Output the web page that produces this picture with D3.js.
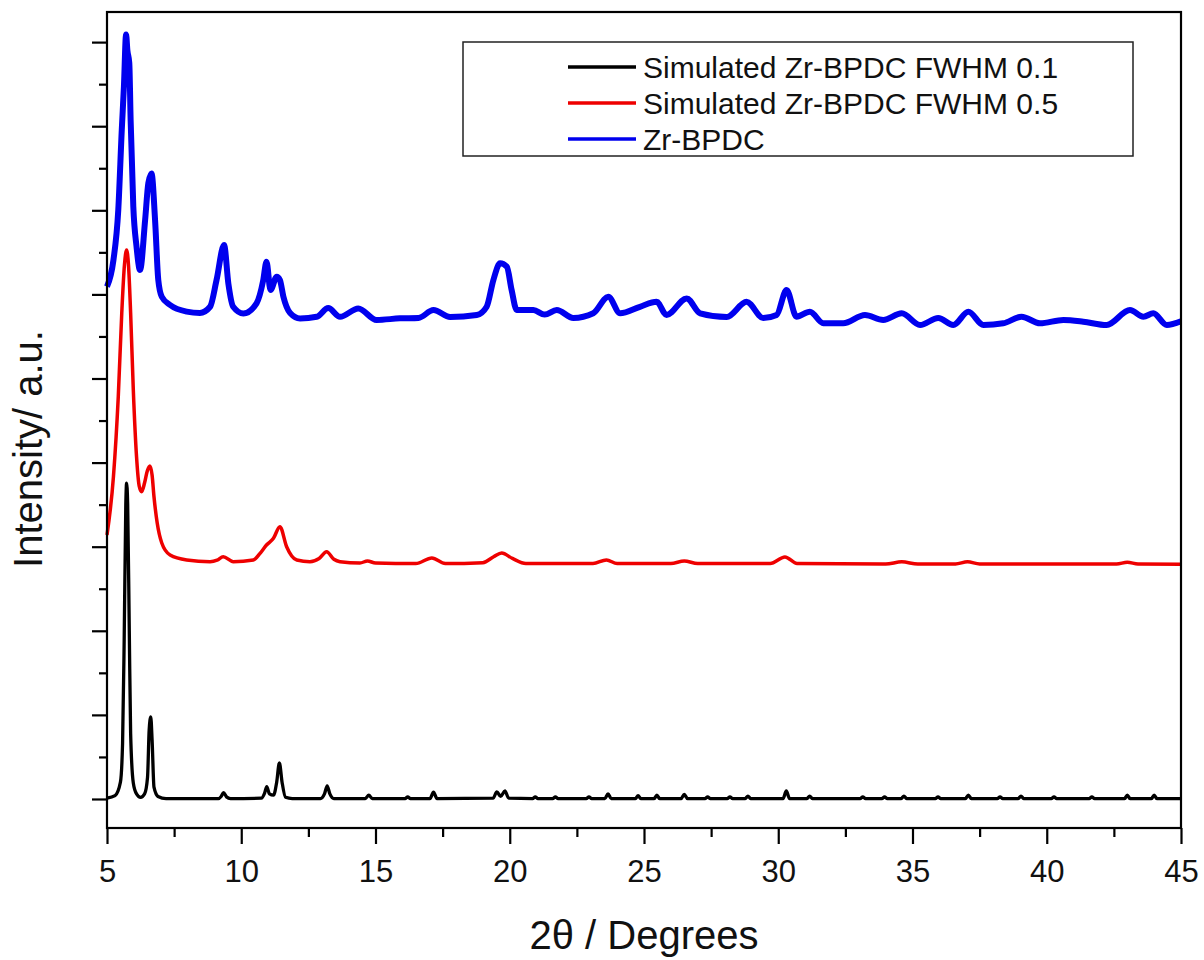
<!DOCTYPE html>
<html lang="en">
<head>
    <meta charset="utf-8" />
    <title>Zr-BPDC PXRD</title>
    <script src="https://d3js.org/d3.v7.min.js"></script>
    <style>
        body { margin: 0; background: #fff; }
        text { font-family: "Liberation Sans", Arial, sans-serif; fill: #111; }
    </style>
</head>
<body>
    <script>
        // Data: [2theta, intensity a.u.]
        const simSharp = [
            [5.0, 10], [5.3, 40], [5.5, 200], [5.58, 660], [5.64, 1890], [5.7, 3500], [5.73, 3757],
            [5.77, 3500], [5.83, 2000], [5.88, 780], [5.98, 190], [6.1, 60], [6.25, 20], [6.4, 60],
            [6.51, 260], [6.57, 820], [6.63, 975], [6.68, 700], [6.75, 140], [6.9, 30], [7.2, 5],
            [9.15, 5], [9.25, 30], [9.34, 75], [9.45, 25], [9.6, 5],
            [10.75, 10], [10.87, 70], [10.95, 146], [11.05, 60], [11.2, 45], [11.32, 200], [11.42, 430],
            [11.52, 200], [11.65, 20], [11.9, 5],
            [12.95, 5], [13.1, 60], [13.2, 155], [13.3, 60], [13.45, 5],
            [14.62, 5], [14.75, 45], [14.88, 5],
            [16.1, 5], [16.2, 25], [16.3, 5],
            [17.03, 5], [17.16, 80], [17.29, 5],
            [19.38, 10], [19.52, 85], [19.66, 30], [19.82, 95], [19.96, 10],
            [20.85, 5], [20.95, 25], [21.05, 5],
            [21.6, 5], [21.7, 25], [21.8, 5],
            [22.85, 5], [22.95, 25], [23.05, 5],
            [23.54, 5], [23.66, 60], [23.78, 5],
            [24.68, 5], [24.78, 40], [24.88, 5],
            [25.38, 5], [25.48, 45], [25.58, 5],
            [26.38, 5], [26.5, 55], [26.62, 5],
            [27.27, 5], [27.37, 25], [27.47, 5],
            [28.1, 5], [28.2, 25], [28.3, 5],
            [28.77, 5], [28.87, 35], [28.97, 5],
            [30.18, 5], [30.3, 95], [30.42, 5],
            [31.07, 5], [31.17, 35], [31.27, 5],
            [33.05, 5], [33.15, 25], [33.25, 5],
            [33.86, 5], [33.96, 25], [34.06, 5],
            [34.58, 5], [34.68, 35], [34.78, 5],
            [35.85, 5], [35.95, 25], [36.05, 5],
            [36.97, 5], [37.08, 45], [37.19, 5],
            [38.16, 5], [38.26, 25], [38.36, 5],
            [38.94, 5], [39.04, 35], [39.14, 5],
            [40.17, 5], [40.27, 25], [40.37, 5],
            [41.58, 5], [41.68, 25], [41.78, 5],
            [42.9, 5], [43.0, 45], [43.1, 5],
            [43.9, 5], [44.0, 45], [44.1, 5], [45.0, 5]
        ];

        const simBroad = [
            [5.0, 3139], [5.24, 3832], [5.42, 4784], [5.55, 5779], [5.65, 6350], [5.73, 6528],
            [5.8, 6350], [5.88, 5779], [5.98, 4863], [6.1, 4070], [6.2, 3720], [6.29, 3654],
            [6.4, 3760], [6.5, 3900], [6.6, 3960], [6.68, 3850], [6.75, 3594], [6.87, 3282],
            [7.04, 3044], [7.35, 2901], [7.97, 2842], [8.84, 2822], [9.1, 2840], [9.33, 2881],
            [9.7, 2822], [10.45, 2842], [10.7, 2920], [10.94, 3020], [11.2, 3100], [11.44, 3238],
            [11.69, 3000], [12.07, 2842], [12.56, 2822], [12.9, 2860], [13.18, 2940], [13.45, 2850],
            [13.68, 2822], [14.42, 2806], [14.7, 2830], [15.0, 2806], [16.5, 2800], [17.1, 2866],
            [17.6, 2800], [19.0, 2810], [19.4, 2880], [19.7, 2925], [20.1, 2860], [20.6, 2800],
            [23.1, 2800], [23.6, 2842], [24.0, 2800], [26.0, 2800], [26.5, 2830], [27.0, 2800],
            [29.7, 2800], [30.25, 2878], [30.7, 2800], [34.0, 2794], [34.6, 2820], [35.2, 2794],
            [36.6, 2794], [37.05, 2820], [37.5, 2794], [42.6, 2794], [43.0, 2815], [43.4, 2794],
            [45.0, 2790]
        ];

        const measured = [
            [5.0, 6092], [5.24, 6409], [5.42, 7004], [5.55, 7955], [5.63, 8470], [5.71, 9090],
            [5.76, 8900], [5.83, 8751], [5.88, 8074], [5.98, 7043], [6.1, 6567], [6.23, 6290],
            [6.42, 6885], [6.54, 7325], [6.66, 7437], [6.79, 6885], [6.91, 6171], [7.04, 5972],
            [7.35, 5874], [7.97, 5795], [8.46, 5779], [8.84, 5853], [9.08, 6171], [9.36, 6587],
            [9.52, 6129], [9.7, 5853], [10.08, 5773], [10.57, 5894], [10.82, 6171], [10.94, 6389],
            [11.09, 6052], [11.32, 6211], [11.44, 6171], [11.57, 5972], [11.82, 5779], [12.19, 5714],
            [12.81, 5734], [13.24, 5838], [13.68, 5734], [14.36, 5833], [15.04, 5696], [15.91, 5715],
            [16.6, 5720], [17.16, 5814], [17.78, 5731], [18.77, 5755], [19.14, 5853], [19.39, 6171],
            [19.64, 6369], [19.89, 6329], [20.07, 6052], [20.26, 5814], [20.88, 5814], [21.3, 5760],
            [21.75, 5814], [22.37, 5719], [23.11, 5775], [23.67, 5972], [24.11, 5775], [24.85, 5853],
            [25.47, 5912], [25.84, 5755], [26.59, 5952], [27.09, 5775], [28.08, 5731], [28.82, 5912],
            [29.44, 5719], [29.94, 5755], [30.31, 6052], [30.68, 5735], [31.18, 5794], [31.68, 5656],
            [32.42, 5656], [33.23, 5755], [33.91, 5696], [34.6, 5775], [35.28, 5636], [35.96, 5719],
            [36.52, 5636], [37.08, 5794], [37.64, 5636], [38.38, 5656], [39.06, 5735], [39.75, 5656],
            [40.62, 5696], [41.36, 5676], [42.23, 5636], [43.1, 5814], [43.6, 5735], [43.97, 5775],
            [44.47, 5636], [45.0, 5680]
        ];

        const seriesNames = ["Simulated Zr-BPDC FWHM 0.1", "Simulated Zr-BPDC FWHM 0.5", "Zr-BPDC"];
        const seriesColors = ["#000000", "#ee0000", "#0000ee"];
        const xMajorTicks = [5, 10, 15, 20, 25, 30, 35, 40, 45];
        const xMinorTicks = [7.5, 12.5, 17.5, 22.5, 27.5, 32.5, 37.5, 42.5];
        const yMajorTicks = [0, 1000, 2000, 3000, 4000, 5000, 6000, 7000, 8000, 9000];
        const yMinorTicks = [500, 1500, 2500, 3500, 4500, 5500, 6500, 7500, 8500];

        const width = 1204, height = 960;
        const plotL = 107, plotR = 1181, plotT = 12, plotB = 828;

        const svg = d3.select("body")
            .append("svg")
            .attr("width", width)
            .attr("height", height);

        const xScale = d3.scaleLinear().domain([5, 45]).range([plotL, plotR]);
        const yScale = d3.scaleLinear().domain([-345, 9358]).range([plotB, plotT]);

        // lines first, frame on top
        const line = d3.line()
            .x(d => xScale(d[0]))
            .y(d => yScale(d[1]))
            .curve(d3.curveMonotoneX);

        const widths = [3.3, 3.5, 6];
        [simSharp, simBroad, measured].forEach((data, i) => {
            svg.append("path")
                .datum(data)
                .attr("fill", "none")
                .attr("stroke", seriesColors[i])
                .attr("stroke-width", widths[i])
                .attr("stroke-linejoin", "round")
                .attr("d", line);
        });

        // x axis
        const xAxis = svg.append("g")
            .attr("transform", "translate(0," + plotB + ")")
            .call(d3.axisBottom(xScale).tickValues(xMajorTicks).tickSize(16).tickPadding(16).tickFormat(d3.format("d")));
        xAxis.select(".domain").remove();
        xAxis.selectAll("line").attr("stroke", "#000").attr("stroke-width", 2.2);
        xAxis.selectAll("text").style("font-size", "31px").attr("fill", "#111");

        const xMinor = svg.append("g")
            .attr("transform", "translate(0," + plotB + ")")
            .call(d3.axisBottom(xScale).tickValues(xMinorTicks).tickSize(9).tickFormat(""));
        xMinor.select(".domain").remove();
        xMinor.selectAll("line").attr("stroke", "#000").attr("stroke-width", 2.2);

        // y axis, no labels
        const yAxis = svg.append("g")
            .attr("transform", "translate(" + plotL + ",0)")
            .call(d3.axisLeft(yScale).tickValues(yMajorTicks).tickSize(15).tickFormat(""));
        yAxis.select(".domain").remove();
        yAxis.selectAll("line").attr("stroke", "#000").attr("stroke-width", 2.2);

        const yMinor = svg.append("g")
            .attr("transform", "translate(" + plotL + ",0)")
            .call(d3.axisLeft(yScale).tickValues(yMinorTicks).tickSize(8).tickFormat(""));
        yMinor.select(".domain").remove();
        yMinor.selectAll("line").attr("stroke", "#000").attr("stroke-width", 2.2);

        // frame
        svg.append("rect")
            .attr("x", plotL)
            .attr("y", plotT)
            .attr("width", plotR - plotL)
            .attr("height", plotB - plotT)
            .attr("fill", "none")
            .attr("stroke", "#000")
            .attr("stroke-width", 2.2);

        // axis titles
        svg.append("text")
            .attr("transform", "translate(42,449) rotate(-90)")
            .attr("text-anchor", "middle")
            .style("font-size", "40px")
            .text("Intensity/ a.u.");

        svg.append("text")
            .attr("x", (plotL + plotR) / 2)
            .attr("y", 949)
            .attr("text-anchor", "middle")
            .style("font-size", "40px")
            .text("2θ / Degrees");

        // legend
        const legend = svg.append("g");
        legend.append("rect")
            .attr("x", 463)
            .attr("y", 42)
            .attr("width", 670)
            .attr("height", 114)
            .attr("fill", "#fff")
            .attr("stroke", "#222")
            .attr("stroke-width", 1.5);

        seriesNames.forEach((name, i) => {
            const ly = 67 + i * 36;
            legend.append("line")
                .attr("x1", 568).attr("x2", 636)
                .attr("y1", ly).attr("y2", ly)
                .attr("stroke", seriesColors[i])
                .attr("stroke-width", 3.5);
            legend.append("text")
                .attr("x", 643)
                .attr("y", ly)
                .attr("dy", "0.36em")
                .style("font-size", "30px")
                .text(name);
        });
    </script>
</body>
</html>
